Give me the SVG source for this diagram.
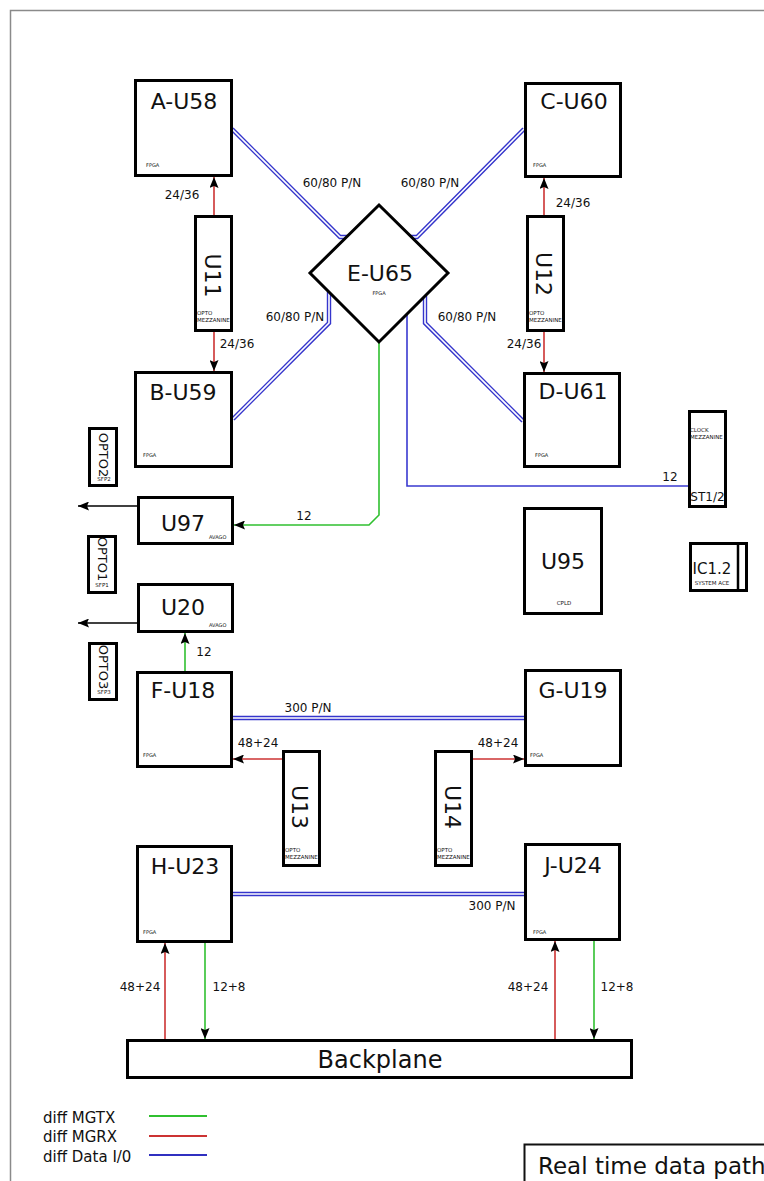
<svg xmlns="http://www.w3.org/2000/svg" xmlns:xlink="http://www.w3.org/1999/xlink" width="764" height="1181" viewBox="0 0 764 1181">
<defs>
<style>
text{font-family:"DejaVu Sans","Liberation Sans",sans-serif;fill:#111}
.box{fill:#fff;stroke:#000;stroke-width:3}
.big{font-size:22px;text-anchor:middle}
.mid{font-size:12px;text-anchor:middle}
.sm{font-size:5px}
.lbl{font-size:12px;text-anchor:middle}
.dbl{fill:none;stroke:#3535cc;stroke-width:4.4}
.dblin{fill:none;stroke:#fff;stroke-width:1.6}
.blue{fill:none;stroke:#3a3ad0;stroke-width:1.6}
.green{fill:none;stroke:#30c030;stroke-width:1.6}
.red{fill:none;stroke:#cc3333;stroke-width:1.6}
.blk{fill:none;stroke:#000;stroke-width:1.4}
.leg{font-size:15px}
</style>
<marker id="ah" markerUnits="userSpaceOnUse" markerWidth="11" markerHeight="9" refX="11" refY="4.5" orient="auto">
<path d="M0,0 L11,4.5 L0,9 L2,4.5 z" fill="#000"/>
</marker>
</defs>
<rect x="10.5" y="10.5" width="800" height="1200" fill="#fff" stroke="#8a8a8a" stroke-width="1.5"/>

<g id="connectors">
<path class="dbl" d="M232,129 L340,237 L348,237"/>
<path class="dblin" d="M232,129 L340,237 L348,237"/>
<path class="dbl" d="M524,129 L417,237 L409,237"/>
<path class="dblin" d="M524,129 L417,237 L409,237"/>
<path class="dbl" d="M329,292 L329,323 L233,419"/>
<path class="dblin" d="M329,292 L329,323 L233,419"/>
<path class="dbl" d="M425,296 L425,323 L523,421"/>
<path class="dblin" d="M425,296 L425,323 L523,421"/>
<path class="dbl" d="M233,718 L524,718"/>
<path class="dblin" d="M233,718 L524,718"/>
<path class="dbl" d="M233,894 L524,894"/>
<path class="dblin" d="M233,894 L524,894"/>
<path class="blue" d="M407,314 L407,486 L688,486"/>
<path class="green" d="M379,342 L379,515 L369,525 L234,525" marker-end="url(#ah)"/>
<path class="red" d="M214,216 L214,177" marker-end="url(#ah)"/>
<path class="red" d="M214,331 L214,371" marker-end="url(#ah)"/>
<path class="red" d="M544,216 L544,178" marker-end="url(#ah)"/>
<path class="red" d="M544,331 L544,372" marker-end="url(#ah)"/>
<path class="blk" d="M138,506 L78,506" marker-end="url(#ah)"/>
<path class="blk" d="M138,623 L78,623" marker-end="url(#ah)"/>
<path class="green" d="M185,671 L185,633" marker-end="url(#ah)"/>
<path class="red" d="M283,759 L233,759" marker-end="url(#ah)"/>
<path class="red" d="M472,759 L524,759" marker-end="url(#ah)"/>
<path class="red" d="M165,1039 L165,943" marker-end="url(#ah)"/>
<path class="green" d="M205,943 L205,1039" marker-end="url(#ah)"/>
<path class="red" d="M555,1039 L555,941" marker-end="url(#ah)"/>
<path class="green" d="M594,941 L594,1039" marker-end="url(#ah)"/>
<text class="lbl" x="182" y="199">24/36</text>
<text class="lbl" x="237" y="348">24/36</text>
<text class="lbl" x="573" y="207">24/36</text>
<text class="lbl" x="524" y="348">24/36</text>
<text class="lbl" x="332" y="187">60/80 P/N</text>
<text class="lbl" x="430" y="187">60/80 P/N</text>
<text class="lbl" x="295" y="321">60/80 P/N</text>
<text class="lbl" x="467" y="321">60/80 P/N</text>
<text class="lbl" x="670" y="481">12</text>
<text class="lbl" x="304" y="520">12</text>
<text class="lbl" x="204" y="656">12</text>
<text class="lbl" x="308" y="712">300 P/N</text>
<text class="lbl" x="492" y="910">300 P/N</text>
<text class="lbl" x="258" y="747">48+24</text>
<text class="lbl" x="498" y="747">48+24</text>
<text class="lbl" x="140" y="991">48+24</text>
<text class="lbl" x="229" y="991">12+8</text>
<text class="lbl" x="528" y="991">48+24</text>
<text class="lbl" x="617" y="991">12+8</text>
</g>

<g id="A-U58">
<rect class="box" x="135.5" y="80.5" width="96" height="95"/>
<text class="big" x="184" y="109">A-U58</text>
<text class="sm" x="146" y="167">FPGA</text>
</g>
<g id="B-U59">
<rect class="box" x="135.5" y="372.5" width="96" height="94"/>
<text class="big" x="183" y="400">B-U59</text>
<text class="sm" x="143" y="457">FPGA</text>
</g>
<g id="C-U60">
<rect class="box" x="525.5" y="83.5" width="95" height="93"/>
<text class="big" x="574" y="109">C-U60</text>
<text class="sm" x="533" y="167">FPGA</text>
</g>
<g id="D-U61">
<rect class="box" x="524.5" y="373.5" width="95" height="93"/>
<text class="big" x="573" y="399">D-U61</text>
<text class="sm" x="535" y="457">FPGA</text>
</g>
<g id="E-U65">
<path class="box" d="M379,205 L448,273 L379,342 L310,273 z"/>
<text class="big" x="380" y="281">E-U65</text>
<text class="sm" x="379" y="295" text-anchor="middle">FPGA</text>
</g>
<g id="U11">
<rect class="box" x="195.5" y="216.5" width="36" height="114"/>
<text class="big" transform="translate(205,275.5) rotate(90)">U11</text>
<text class="sm" x="197" y="315" style="font-size:5.5px">OPTO</text>
<text class="sm" x="197" y="322" style="font-size:5.5px">MEZZANINE</text>
</g>
<g id="U12">
<rect class="box" x="527.5" y="216.5" width="36" height="114"/>
<text class="big" transform="translate(536,274) rotate(90)">U12</text>
<text class="sm" x="529" y="315" style="font-size:5.5px">OPTO</text>
<text class="sm" x="529" y="322" style="font-size:5.5px">MEZZANINE</text>
</g>
<g id="ST1-2">
<rect class="box" x="689.5" y="411.5" width="36" height="95"/>
<text class="sm" x="690" y="432" style="font-size:5.5px">CLOCK</text>
<text class="sm" x="690" y="439" style="font-size:5.5px">MEZZANINE</text>
<text class="mid" x="707.5" y="501">ST1/2</text>
</g>
<g id="U95">
<rect class="box" x="524.5" y="508.5" width="77" height="105"/>
<text class="big" x="563" y="569">U95</text>
<text class="sm" x="564" y="605" text-anchor="middle" style="font-size:5.5px">CPLD</text>
</g>
<g id="IC1.2">
<rect class="box" x="690.5" y="543.5" width="56" height="47"/>
<line x1="738" y1="543.5" x2="738" y2="590.5" stroke="#000" stroke-width="2.5"/>
<text x="712" y="574" style="font-size:15px;text-anchor:middle">IC1.2</text>
<text class="sm" x="712" y="585" text-anchor="middle" style="font-size:5.5px">SYSTEM ACE</text>
</g>
<g id="OPTO2">
<rect class="box" x="89.5" y="428.5" width="27" height="57"/>
<text transform="translate(98.5,455) rotate(90)" style="font-size:13px;text-anchor:middle">OPTO2</text>
<text class="sm" x="104" y="481" text-anchor="middle" style="font-size:5.5px">SFP2</text>
</g>
<g id="OPTO1">
<rect class="box" x="88.5" y="536.5" width="27" height="56"/>
<text transform="translate(97.5,559) rotate(90)" style="font-size:13px;text-anchor:middle">OPTO1</text>
<text class="sm" x="102" y="587" text-anchor="middle" style="font-size:5.5px">SFP1</text>
</g>
<g id="OPTO3">
<rect class="box" x="89.5" y="643.5" width="27" height="56"/>
<text transform="translate(98.5,667) rotate(90)" style="font-size:13px;text-anchor:middle">OPTO3</text>
<text class="sm" x="104" y="694" text-anchor="middle" style="font-size:5.5px">SFP3</text>
</g>
<g id="U97">
<rect class="box" x="138.5" y="497.5" width="94" height="46"/>
<text class="big" x="183" y="531">U97</text>
<text class="sm" x="209" y="539">AVAGO</text>
</g>
<g id="U20">
<rect class="box" x="138.5" y="584.5" width="94" height="47"/>
<text class="big" x="183" y="615">U20</text>
<text class="sm" x="209" y="627">AVAGO</text>
</g>
<g id="F-U18">
<rect class="box" x="137.5" y="672.5" width="94" height="94"/>
<text class="big" x="183" y="698">F-U18</text>
<text class="sm" x="143" y="757">FPGA</text>
</g>
<g id="G-U19">
<rect class="box" x="525.5" y="670.5" width="95" height="95"/>
<text class="big" x="573" y="698">G-U19</text>
<text class="sm" x="530" y="757">FPGA</text>
</g>
<g id="U13">
<rect class="box" x="283.5" y="751.5" width="36" height="114"/>
<text class="big" transform="translate(292,807) rotate(90)">U13</text>
<text class="sm" x="285" y="852" style="font-size:5.5px">OPTO</text>
<text class="sm" x="285" y="859" style="font-size:5.5px">MEZZANINE</text>
</g>
<g id="U14">
<rect class="box" x="435.5" y="751.5" width="36" height="114"/>
<text class="big" transform="translate(445,807) rotate(90)">U14</text>
<text class="sm" x="437" y="852" style="font-size:5.5px">OPTO</text>
<text class="sm" x="437" y="859" style="font-size:5.5px">MEZZANINE</text>
</g>
<g id="H-U23">
<rect class="box" x="137.5" y="846.5" width="94" height="95"/>
<text class="big" x="185" y="874">H-U23</text>
<text class="sm" x="143" y="934">FPGA</text>
</g>
<g id="J-U24">
<rect class="box" x="525.5" y="844.5" width="94" height="95"/>
<text class="big" x="573" y="873">J-U24</text>
<text class="sm" x="533" y="934">FPGA</text>
</g>
<g id="Backplane">
<rect class="box" x="127.5" y="1040.5" width="504" height="37"/>
<text class="big" x="380" y="1068" style="font-size:24px">Backplane</text>
</g>
<g id="legend">
<text class="leg" x="43" y="1123">diff MGTX</text>
<text class="leg" x="43" y="1142">diff MGRX</text>
<text class="leg" x="43" y="1162">diff Data I/0</text>
<line x1="149" y1="1116" x2="207" y2="1116" stroke="#30c030" stroke-width="2"/>
<line x1="149" y1="1136" x2="207" y2="1136" stroke="#cc3333" stroke-width="2"/>
<line x1="149" y1="1155" x2="207" y2="1155" stroke="#3030c0" stroke-width="2"/>
</g>
<g id="title">
<rect x="524.5" y="1144.5" width="300" height="100" fill="#fff" stroke="#111" stroke-width="2"/>
<text x="538" y="1174" style="font-size:23px">Real time data path</text>
</g>
</svg>
